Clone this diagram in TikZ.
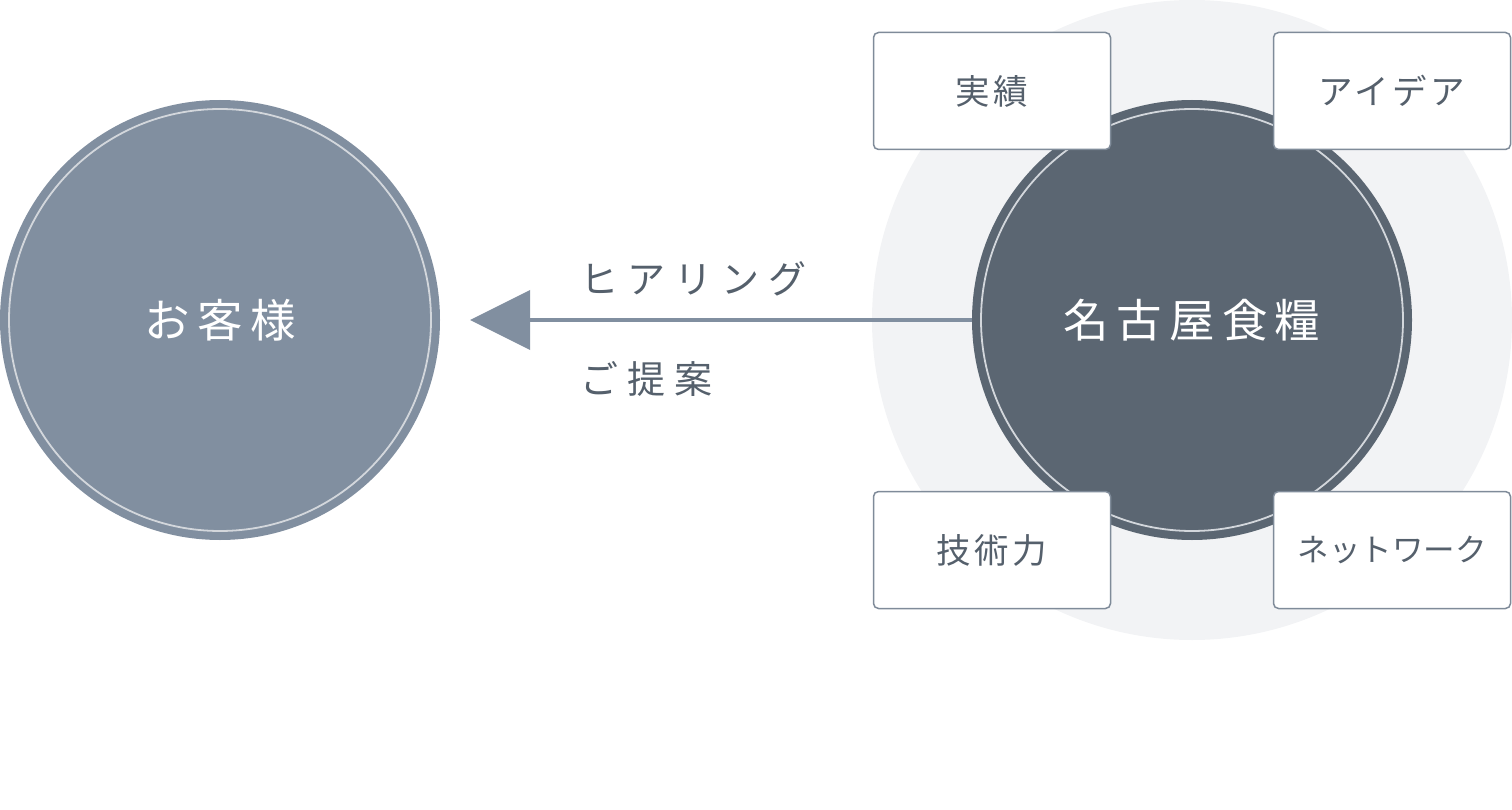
\documentclass[tikz,border=0pt]{standalone}
\usepackage{fontspec}
\setmainfont{Noto Sans CJK JP}
\newfontfamily\bigjp[LetterSpace=16]{Noto Sans CJK JP}
\newfontfamily\midjp[LetterSpace=24]{Noto Sans CJK JP}
\newfontfamily\boxjp[LetterSpace=10]{Noto Sans CJK JP}
\newfontfamily\boxjpn[LetterSpace=0]{Noto Sans CJK JP}
\definecolor{custc}{HTML}{818FA0}
\definecolor{compc}{HTML}{5B6672}
\definecolor{halo}{HTML}{F2F3F5}
\definecolor{ringc}{HTML}{D3D7DC}
\definecolor{boxb}{HTML}{7F8B99}
\definecolor{txtc}{HTML}{55606C}
\begin{document}
\begin{tikzpicture}[x=1pt,y=-1pt,
  bigcircle/.style={circle,minimum size=440pt,inner sep=0pt,text=white,font=\bigjp\fontsize{45.5}{45.5}\selectfont},
  featbox/.style={draw=boxb,line width=1.5pt,fill=white,rounded corners=5pt,minimum width=237pt,minimum height=117pt,inner sep=0pt,text=txtc,font=\boxjp\fontsize{34.5}{34.5}\selectfont},
  lbl/.style={text=txtc,font=\midjp\fontsize{38}{38}\selectfont,anchor=west,inner sep=0pt}]
\useasboundingbox (0,0) rectangle (1512,810);
\fill[halo] (1192,320) circle[radius=320];
\node[bigcircle,fill=custc] (cust) at (220,320) {お客様};
\draw[ringc,line width=1.8pt] (cust.center) circle[radius=211];
\node[bigcircle,fill=compc] (comp) at (1192,320) {名古屋食糧};
\draw[ringc,line width=1.8pt] (comp.center) circle[radius=211];
\coordinate (tip) at (470,320);
\coordinate (base) at (530,320);
\draw[custc,line width=4pt] (comp.west) -- (base);
\fill[custc] (tip) -- ([yshift=-30pt]base) -- ([yshift=30pt]base) -- cycle;
\node[lbl] (hear) at (580,279) {ヒアリング};
\node[lbl] (prop) at (580,379) {ご提案};
\node[featbox] (b1) at (992,91) {実績};
\node[featbox] (b2) at (1392,91) {アイデア};
\node[featbox] (b3) at (992,550) {技術力};
\node[featbox,font=\boxjpn\fontsize{31.5}{31.5}\selectfont] (b4) at (1392,550) {ネットワーク};
\end{tikzpicture}
\end{document}
